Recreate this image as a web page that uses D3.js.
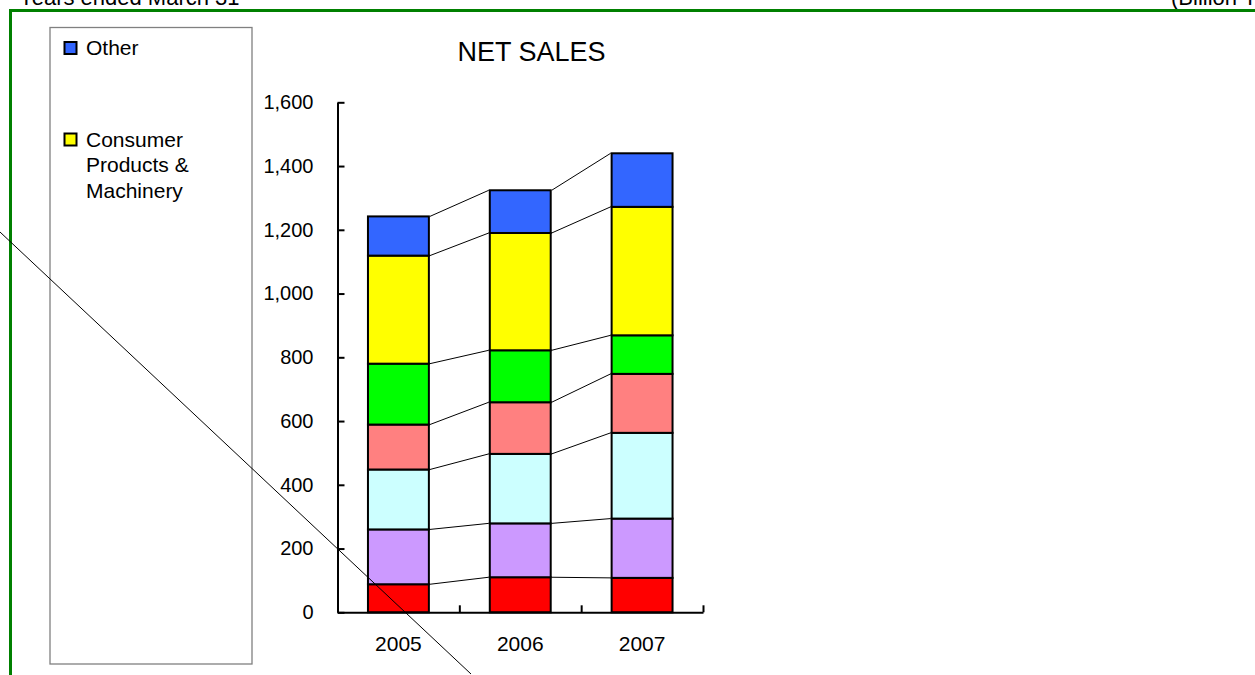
<!DOCTYPE html>
<html>
<head>
<meta charset="utf-8">
<script src="https://cdn.jsdelivr.net/npm/d3@7/dist/d3.min.js"></script>
<style>
  html, body { margin: 0; padding: 0; background: #fff; overflow: hidden; }
  svg { display: block; font-family: "Liberation Sans", Arial, sans-serif; }
</style>
</head>
<body>
<svg id="chart" width="1255" height="675"></svg>
<script>
// ---- data ----
const categories = ["2005", "2006", "2007"];
// segments, stacked bottom to top
const seriesNames = ["Segment 1", "Segment 2", "Segment 3", "Segment 4", "Segment 5",
                     "Consumer Products & Machinery", "Other"];
const seriesColors = ["#FF0000", "#CC99FF", "#CCFFFF", "#FF8080", "#00FF00", "#FFFF00", "#3366FF"];
const seg1   = [88, 110, 108];
const seg2   = [172, 169, 186];
const seg3   = [188, 218, 269];
const seg4   = [141, 162, 185];
const seg5   = [191, 163, 121];
const consumer = [339, 368, 403];
const other  = [123, 134, 168];
const yTicks = [0, 200, 400, 600, 800, 1000, 1200, 1400, 1600];
const legendItems = [
  { name: "Other", color: "#3366FF", lines: ["Other"] },
  { name: "Consumer Products & Machinery", color: "#FFFF00", lines: ["Consumer", "Products &", "Machinery"] }
];
const titleText = "NET SALES";
const headerLeft = "Years ended March 31";
const headerRight = "(Billion Yen)";

const seriesValues = [seg1, seg2, seg3, seg4, seg5, consumer, other];
const table = categories.map((c, i) => {
  const row = { cat: c };
  seriesNames.forEach((s, j) => row[s] = seriesValues[j][i]);
  return row;
});

// ---- layout ----
const svg = d3.select("#chart");
const x0 = 337.5, x1 = 703, yBottom = 612.3, yTop = 102.3;

const x = d3.scaleBand().domain(categories).range([x0, x1])
  .paddingInner(0.5).paddingOuter(0.25);
const y = d3.scaleLinear().domain([0, 1600]).range([yBottom, yTop]);
const bw = x.bandwidth();

// header texts (cut off at the top)
svg.append("text").attr("x", 19).attr("y", 5).attr("font-size", 22)
  .attr("fill", "#000").text(headerLeft);
svg.append("text").attr("x", 1171).attr("y", 5).attr("font-size", 22)
  .attr("fill", "#000").text(headerRight);

// green frame
svg.append("path").attr("d", "M10.5,676 V10.5 H1260")
  .attr("fill", "none").attr("stroke", "#008000").attr("stroke-width", 3);

// legend box
svg.append("rect").attr("x", 50).attr("y", 27.5).attr("width", 202).attr("height", 636.5)
  .attr("fill", "#fff").attr("stroke", "#808080").attr("stroke-width", 1.3);

const legendTop = [42, 133.5];
legendItems.forEach((it, i) => {
  const g = svg.append("g");
  g.append("rect").attr("x", 64.5).attr("y", legendTop[i]).attr("width", 12).attr("height", 12)
    .attr("fill", it.color).attr("stroke", "#000").attr("stroke-width", 2);
  it.lines.forEach((ln, k) => {
    g.append("text").attr("x", 86).attr("y", legendTop[i] + 13 + k * 25.7)
      .attr("font-size", 21).attr("fill", "#000").text(ln);
  });
});

// title
svg.append("text").attr("x", 531.5).attr("y", 61).attr("text-anchor", "middle")
  .attr("font-size", 27).attr("fill", "#000").text(titleText);

// stacked bars
const stack = d3.stack().keys(seriesNames)(table);

const layers = svg.append("g");
stack.forEach((layer, j) => {
  layers.append("g").selectAll("rect").data(layer).join("rect")
    .attr("x", d => x(d.data.cat))
    .attr("y", d => y(d[1]))
    .attr("width", bw)
    .attr("height", d => y(d[0]) - y(d[1]))
    .attr("fill", seriesColors[j])
    .attr("stroke", "#000")
    .attr("stroke-width", 2);
});

// series connector lines
const conn = svg.append("g").attr("stroke", "#000").attr("stroke-width", 1).attr("fill", "none");
stack.forEach(layer => {
  for (let i = 0; i < layer.length - 1; i++) {
    conn.append("line")
      .attr("x1", x(layer[i].data.cat) + bw + 1).attr("y1", y(layer[i][1]))
      .attr("x2", x(layer[i + 1].data.cat) - 1).attr("y2", y(layer[i + 1][1]));
  }
});

// y axis
const yAxis = d3.axisLeft(y).tickValues(yTicks).tickSizeInner(-7).tickSizeOuter(0)
  .tickPadding(24).tickFormat(d3.format(","));
const gy = svg.append("g").attr("transform", `translate(${x0},0)`).call(yAxis);
gy.selectAll("path, line").attr("stroke", "#000").attr("stroke-width", 2);
gy.selectAll("text").attr("font-size", 20).attr("font-family", "Liberation Sans, Arial, sans-serif")
  .attr("fill", "#000");

// x axis: line + boundary ticks
const boundary = d3.scaleLinear().domain([0, categories.length]).range([x0, x1]);
const gxb = svg.append("g").attr("transform", `translate(0,${yBottom})`)
  .call(d3.axisBottom(boundary).tickValues(d3.range(categories.length + 1))
    .tickSizeInner(-7).tickSizeOuter(0).tickFormat(""));
gxb.selectAll("path, line").attr("stroke", "#000").attr("stroke-width", 2);

const gx = svg.append("g").attr("transform", `translate(0,${yBottom})`)
  .call(d3.axisBottom(x).tickSize(0).tickPadding(23.5));
gx.select("path").remove();
gx.selectAll("text").attr("font-size", 21).attr("font-family", "Liberation Sans, Arial, sans-serif")
  .attr("fill", "#000");

// stray diagonal line over the chart
svg.append("line").attr("x1", 0).attr("y1", 232).attr("x2", 471).attr("y2", 674)
  .attr("stroke", "#000").attr("stroke-width", 1);
</script>
</body>
</html>
